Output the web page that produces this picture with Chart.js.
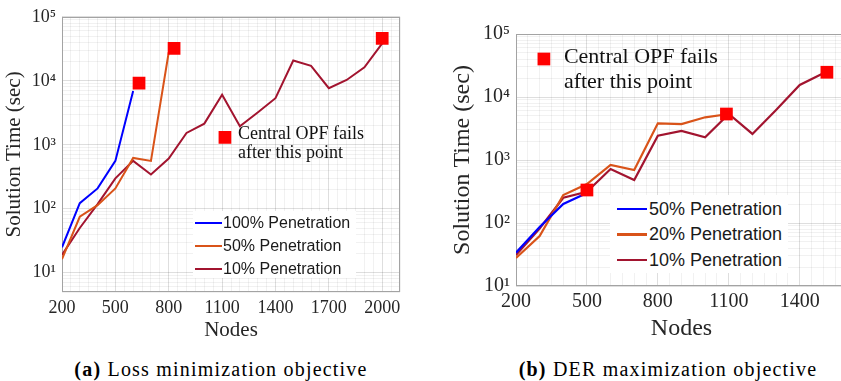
<!DOCTYPE html>
<html><head><meta charset="utf-8">
<script src="https://cdn.jsdelivr.net/npm/chart.js@4"></script>
<style>
html,body{margin:0;padding:0;background:#fff;width:841px;height:381px;overflow:hidden;position:relative}
canvas{position:absolute;top:0}
#ca{left:0}
#cb{left:420px}
.cap{position:absolute;font-family:"Liberation Serif","Times New Roman",serif;font-size:20px;line-height:24px;color:#000;text-align:center;letter-spacing:1.2px;white-space:nowrap}
.leg{position:absolute;background:#fff;font-family:"Liberation Sans",Arial,sans-serif;color:#1a1a1a}
.leg .row{position:absolute;display:flex;align-items:center;white-space:nowrap}
.leg .sw{display:inline-block}
</style></head><body>
<canvas id="ca" width="420" height="345" style="width:420px;height:345px"></canvas>
<canvas id="cb" width="440" height="345" style="width:440px;height:345px"></canvas>
<div class="cap" style="left:0;width:442px;top:357px"><b>(a)</b> Loss minimization objective</div>
<div class="cap" style="left:496px;width:344px;top:357px"><b>(b)</b> DER maximization objective</div>
<script>
// ---------- data: (a) Loss minimization ----------
const nodesA = [200,300,400,500,600,700,800,900,1000,1100,1200,1300,1400,1500,1600,1700,1800,1900,2000];
const pen100A = [25,122,208,560,6900];
const pen50A  = [16.3,75,114,208,623,560,27900];
const pen10A  = [19,50,118,298,560,344,610,1530,2140,6040,1940,3200,5350,20700,17100,7670,10300,16250,38400];
const failNodesA = [633,830,2000];
const failTimeA  = [9160,32100,46000];
const noteA = {x:1116, y:1309};
const xLabelsA = [200,500,800,1100,1400,1700,2000];

// ---------- data: (b) DER maximization ----------
const nodesB = [200,300,400,500,600,700,800,900,1000,1100,1200,1300,1400,1500];
const pen50B = [33.8,86.5,200,300];
const pen20B = [27.8,62,278,416,834,693,3820,3720,4760,5370];
const pen10B = [31,82,252,314,720,482,2430,2890,2290,5370,2590,6220,15500,23800];
const failNodesB = [500,1090,1515];
const failTimeB  = [334,5370,24700];
const noteB = {x:318, y:40100};
const xLabelsB = [200,500,800,1100,1400];

const noteText = ['Central OPF fails','after this point'];

const BLUE='#0000FF', ORANGE='#D95319', DRED='#A2142F', RED='#FF0000';
const SERIF = "'Liberation Serif','Times New Roman',serif";

function pts(xs, ys){ return ys.map((y,i)=>({x:xs[i], y})); }
function isPow10(v){ const l=Math.log10(v); return Math.abs(l-Math.round(l))<1e-9; }
const SUP = {'0':'⁰','1':'¹','2':'²','3':'³','4':'⁴','5':'⁵','6':'⁶','7':'⁷','8':'⁸','9':'⁹'};
function powLabel(v){ const e=Math.round(Math.log10(v)); return '10'+String(e).split('').map(c=>SUP[c]).join(''); }
function logTicks(min,max){
  const out=[];
  for(let e=Math.floor(Math.log10(min)); e<=Math.ceil(Math.log10(max)); e++){
    for(let m=1;m<=9;m++){ const v=m*Math.pow(10,e); if(v>=min*0.9999 && v<=max*1.0001) out.push(v); }
  }
  return out;
}

const framePlugin = {
  id:'frame',
  beforeDatasetsDraw(chart){
    const a=chart.chartArea, c=chart.ctx;
    c.save(); c.strokeStyle='#a3a3a3'; c.lineWidth=1;
    c.strokeRect(Math.round(a.left)+0.5, Math.round(a.top)+0.5, Math.round(a.right-a.left)-1, Math.round(a.bottom-a.top)-1);
    c.restore();
  },
  afterDatasetsDraw(chart){
    const c=chart.ctx;
    chart.data.datasets.forEach((d,i)=>{
      if(!d.note) return;
      const p=chart.getDatasetMeta(i).data[0];
      c.save(); c.fillStyle='#111'; c.font=d.note.font+'px '+SERIF; c.textBaseline='middle'; c.textAlign='left';
      d.note.lines.forEach((t,k)=> c.fillText(t, p.x+d.note.dx, p.y+d.note.dy[k]));
      c.restore();
    });
  }
};

function makeChart(id, cfg){
  const xMajor = v => cfg.xLabels.includes(Math.round(v));
  return new Chart(document.getElementById(id), {
    type:'scatter',
    data:{datasets:cfg.datasets},
    options:{
      responsive:false, animation:false, devicePixelRatio:1,
      layout:{padding:cfg.pad},
      plugins:{legend:{display:false}, tooltip:{enabled:false}},
      scales:{
        x:{
          type:'linear', min:cfg.xmin, max:cfg.xmax,
          afterFit:s=>{ s.height=cfg.xH; },
          ticks:{stepSize:50, autoSkip:false, maxRotation:0, padding:cfg.xTickPad, color:'#262626',
                 font:{family:SERIF,size:cfg.tick},
                 callback:v=> xMajor(v) ? String(v) : ''},
          grid:{drawTicks:false, color:ctx=> (ctx.tick && xMajor(ctx.tick.value)) ? 'rgba(0,0,0,0.13)' : 'rgba(0,0,0,0.055)'},
          border:{display:false},
          title:{display:true, text:'Nodes', color:'#262626', font:{family:SERIF,size:cfg.title}, padding:{top:0,bottom:2}}
        },
        y:{
          type:'logarithmic', min:cfg.ymin, max:cfg.ymax,
          afterFit:s=>{ s.width=cfg.yW; },
          afterBuildTicks:s=>{ s.ticks = logTicks(cfg.ymin,cfg.ymax).map(v=>({value:v})); },
          ticks:{autoSkip:false, padding:6, color:'#262626', font:{family:SERIF,size:cfg.tick},
                 callback:v=> isPow10(v) ? powLabel(v) : ''},
          grid:{drawTicks:false, color:ctx=> (ctx.tick && isPow10(ctx.tick.value)) ? 'rgba(0,0,0,0.13)' : 'rgba(0,0,0,0.055)'},
          border:{display:false},
          title:{display:true, text:'Solution Time (sec)', color:'#262626', font:{family:SERIF,size:cfg.title}, padding:{top:cfg.yTitlePad,bottom:0}}
        }
      }
    },
    plugins:[framePlugin]
  });
}

function lineDs(label, xs, ys, color, w){
  return {label, data:pts(xs,ys), showLine:true, borderColor:color, backgroundColor:color, borderWidth:w,
          pointRadius:0, tension:0, inLegend:true, order:2};
}
function failDs(xs, ys){
  return {label:'fail', data:pts(xs,ys), showLine:false, pointStyle:'rect', pointRadius:9,
          backgroundColor:RED, borderColor:RED, borderWidth:0, order:0};
}
function noteDs(n, font, dx, dy){
  return {label:'note', data:[n], showLine:false, pointStyle:'rect', pointRadius:9,
          backgroundColor:RED, borderColor:RED, borderWidth:0, order:0,
          note:{lines:noteText, font, dx, dy}};
}

const chartA = makeChart('ca', {
  xmin:200, xmax:2100, ymin:5, ymax:1e5, xLabels:xLabelsA,
  pad:{top:16,right:20,left:0,bottom:0}, xH:53, yW:62, xTickPad:5, tick:18, title:21, yTitlePad:2,
  datasets:[
    lineDs('100% Penetration', nodesA, pen100A, BLUE, 2),
    lineDs('50% Penetration', nodesA, pen50A, ORANGE, 2),
    lineDs('10% Penetration', nodesA, pen10A, DRED, 2),
    failDs(failNodesA, failTimeA),
    noteDs(noteA, 18, 13, [-3,16])
  ]
});

const chartB = makeChart('cb', {
  xmin:200, xmax:1600, ymin:10, ymax:1e5, xLabels:xLabelsB,
  pad:{top:34,right:13,left:0,bottom:0}, xH:59, yW:96, xTickPad:4, tick:20, title:24, yTitlePad:28,
  datasets:[
    lineDs('50% Penetration', nodesB, pen50B, BLUE, 2.2),
    lineDs('20% Penetration', nodesB, pen20B, ORANGE, 2.2),
    lineDs('10% Penetration', nodesB, pen10B, DRED, 2.2),
    failDs(failNodesB, failTimeB),
    noteDs(noteB, 22, 20, [-2,23])
  ]
});

function htmlLegend(chart, o){
  const box=document.createElement('div'); box.className='leg';
  Object.assign(box.style,{left:o.left+'px',top:o.top+'px',width:o.w+'px',height:o.h+'px',fontSize:o.font+'px'});
  chart.data.datasets.filter(d=>d.inLegend).forEach((d,i)=>{
    const row=document.createElement('div'); row.className='row';
    row.style.top=(o.firstY+i*o.rowH-o.rowH/2)+'px'; row.style.height=o.rowH+'px'; row.style.left=o.lineX+'px';
    const sw=document.createElement('span'); sw.className='sw';
    sw.style.width=o.lineW+'px'; sw.style.height=d.borderWidth+'px'; sw.style.background=d.borderColor;
    const tx=document.createElement('span'); tx.textContent=d.label; tx.style.marginLeft=o.gap+'px';
    row.append(sw,tx); box.append(row);
  });
  document.body.append(box);
}
htmlLegend(chartA,{left:193,top:211,w:163,h:67,lineX:2,firstY:12,rowH:23,lineW:27,gap:1,font:16});
htmlLegend(chartB,{left:610,top:195,w:178,h:78,lineX:7,firstY:14,rowH:25.5,lineW:30,gap:2,font:18});
</script>
</body></html>
